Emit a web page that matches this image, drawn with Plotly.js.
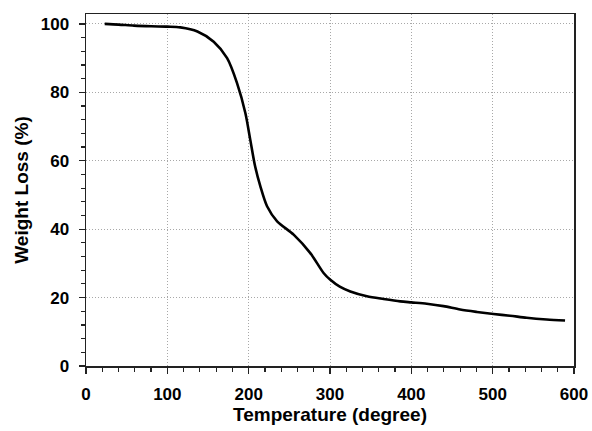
<!DOCTYPE html>
<html><head><meta charset="utf-8">
<script src="https://cdn.plot.ly/plotly-3.0.1.min.js"></script>
<style>html,body{margin:0;padding:0;background:#fff}</style>
</head><body>
<div id="chart" style="width:592px;height:431px"></div>
<script>
const temperature = [23, 40, 59, 80, 100, 116, 137, 157, 173.5, 185.7, 196, 202, 208, 214.4, 222.6, 235, 255.3, 275.8, 292.1, 300.4, 312, 325, 345.4, 365.9, 386.4, 400, 419, 439.6, 460, 480.6, 501, 521.3, 541.8, 566.4, 589];
const weightLoss = [100, 99.8, 99.5, 99.3, 99.2, 99.0, 97.8, 94.8, 90, 82.7, 73.9, 66.1, 58.3, 52.5, 46.7, 42.3, 38.4, 33.0, 27.2, 25.2, 23.2, 21.8, 20.4, 19.6, 18.9, 18.6, 18.2, 17.5, 16.5, 15.8, 15.2, 14.7, 14.1, 13.6, 13.3];
const xTicks = [0, 100, 200, 300, 400, 500, 600];
const yTicks = [0, 20, 40, 60, 80, 100];

const fam = 'Liberation Sans, Arial, sans-serif';
const tickFont = {family: fam, size: 17, color: '#000', weight: 'bold'};
const titleFont = {family: fam, size: 19, color: '#000', weight: 'bold'};
const axisCommon = {
  showline: true, linecolor: '#222', linewidth: 1.5, mirror: true,
  ticks: 'outside', ticklen: 6, tickwidth: 1.3, tickcolor: '#222',
  showgrid: true, gridcolor: '#a8a8a8', griddash: '1px,2px', gridwidth: 1,
  zeroline: false, tickfont: tickFont
};
Plotly.newPlot('chart', [{
  x: temperature, y: weightLoss, type: 'scatter', mode: 'lines',
  line: {color: '#000', width: 2.6, shape: 'spline', smoothing: 0.8}
}], {
  width: 592, height: 431,
  margin: {l: 86, r: 18, t: 14, b: 65},
  paper_bgcolor: '#fff', plot_bgcolor: '#fff',
  showlegend: false,
  xaxis: Object.assign({}, axisCommon, {
    range: [0, 600], tickmode: 'array', tickvals: xTicks, ticktext: xTicks.map(String),
    minor: {dtick: 20, ticklen: 4, tickwidth: 1.2, tickcolor: '#222', showgrid: false, ticks: 'outside'},
    ticklabelstandoff: 6,
    title: {text: 'Temperature (degree)', font: titleFont, standoff: 2}
  }),
  yaxis: Object.assign({}, axisCommon, {
    range: [0, 102.9], tickmode: 'array', tickvals: yTicks, ticktext: yTicks.map(String),
    minor: {dtick: 4, ticklen: 4, tickwidth: 1.2, tickcolor: '#222', showgrid: false, ticks: 'outside'},
    ticklabelstandoff: 6,
    title: {text: 'Weight Loss (%)', font: titleFont, standoff: 7}
  })
}, {displayModeBar: false, staticPlot: true});
</script>
</body></html>
